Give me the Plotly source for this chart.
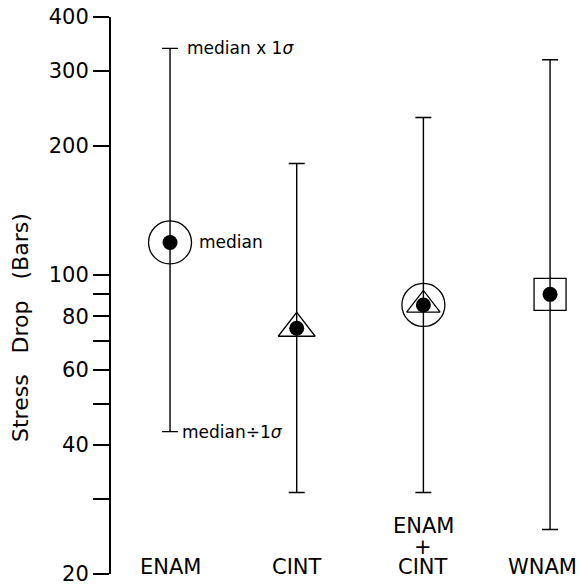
import plotly.graph_objects as go
import math

# ---- data ----
categories = ["ENAM", "CINT", "ENAM+CINT", "WNAM"]
median = [119, 75, 85, 90]
upper = [338, 182, 233, 318]   # median x 1 sigma
lower = [43, 31, 31, 25.4]     # median / 1 sigma
y_tickvals = [20, 30, 40, 50, 60, 70, 80, 90, 100, 200, 300, 400]
y_ticktext = ["20", "", "40", "", "60", "", "80", "", "100", "200", "300", "400"]

x = list(range(len(categories)))
err_plus = [u - m for u, m in zip(upper, median)]
err_minus = [m - l for m, l in zip(median, lower)]

FONT = "DejaVu Sans"
TOP, BOT = 17, 10
PH = 584 - TOP - BOT
fig = go.Figure()

# error bars (median x/÷ 1 sigma)
fig.add_trace(go.Scatter(
    x=x, y=median, mode="markers",
    marker=dict(size=1, color="rgba(0,0,0,0)"),
    error_y=dict(type="data", symmetric=False, array=err_plus, arrayminus=err_minus,
                 color="black", thickness=1.4, width=8),
    showlegend=False, hoverinfo="skip"))

# outer circles (ENAM, ENAM+CINT)
fig.add_trace(go.Scatter(
    x=[x[0], x[2]], y=[median[0], median[2]], mode="markers",
    marker=dict(symbol="circle-open", size=43, color="black", line=dict(width=1.3, color="black")),
    showlegend=False, hoverinfo="skip"))
# triangles (CINT, ENAM+CINT)
fig.add_trace(go.Scatter(
    x=[x[1]], y=[median[1]], mode="markers",
    marker=dict(symbol="triangle-up-open", size=32, color="black", line=dict(width=1.3, color="black")),
    showlegend=False, hoverinfo="skip"))
fig.add_trace(go.Scatter(
    x=[x[2]], y=[median[2]], mode="markers",
    marker=dict(symbol="triangle-up-open", size=29, color="black", line=dict(width=1.3, color="black")),
    showlegend=False, hoverinfo="skip"))
# square (WNAM)
fig.add_trace(go.Scatter(
    x=[x[3]], y=[median[3]], mode="markers",
    marker=dict(symbol="square-open", size=32, color="black", line=dict(width=1.3, color="black")),
    showlegend=False, hoverinfo="skip"))
# filled medians
fig.add_trace(go.Scatter(
    x=x, y=median, mode="markers",
    marker=dict(symbol="circle", size=15, color="black"),
    showlegend=False, hoverinfo="skip"))

def py(px):
    """pixel row -> paper y"""
    return (584 - BOT - px) / PH

ann = []
tf = dict(family=FONT, size=17, color="black")
ann.append(dict(x=x[0], y=math.log10(upper[0]), xref="x", yref="y", text="median x 1<i>σ</i>",
                showarrow=False, xanchor="left", yanchor="middle", xshift=15, font=tf))
ann.append(dict(x=x[0], y=math.log10(median[0]), xref="x", yref="y", text="median",
                showarrow=False, xanchor="left", yanchor="middle", xshift=27, font=tf))
ann.append(dict(x=x[0], y=math.log10(lower[0]), xref="x", yref="y", text="median÷1<i>σ</i>",
                showarrow=False, xanchor="left", yanchor="middle", xshift=10, font=tf))

cf = dict(family=FONT, size=21, color="black")
ann.append(dict(x=x[0], y=py(567), xref="x", yref="paper", text="ENAM", showarrow=False,
                xanchor="center", yanchor="middle", font=cf))
ann.append(dict(x=x[1], y=py(567), xref="x", yref="paper", text="CINT", showarrow=False,
                xanchor="center", yanchor="middle", font=cf))
ann.append(dict(x=x[2], y=py(526), xref="x", yref="paper", text="ENAM", showarrow=False,
                xanchor="center", yanchor="middle", font=cf))
ann.append(dict(x=x[2], y=py(547), xref="x", yref="paper", text="+", showarrow=False,
                xanchor="center", yanchor="middle", font=cf))
ann.append(dict(x=x[2], y=py(567), xref="x", yref="paper", text="CINT", showarrow=False,
                xanchor="center", yanchor="middle", font=cf))
ann.append(dict(x=x[3], y=py(567), xref="x", yref="paper", text="WNAM", showarrow=False,
                xanchor="center", yanchor="middle", xshift=-8, font=cf))

# y-axis title
ann.append(dict(x=(20 - 111) / 472.0, y=py(328), xref="paper", yref="paper",
                text="Stress\u00a0\u00a0\u00a0Drop\u00a0\u00a0\u00a0(Bars)", textangle=-90, showarrow=False,
                xanchor="center", yanchor="middle", font=dict(family=FONT, size=22, color="black")))

fig.update_layout(
    width=583, height=584,
    margin=dict(l=111, r=0, t=TOP, b=BOT),
    paper_bgcolor="white", plot_bgcolor="white",
    annotations=ann,
    xaxis=dict(range=[-0.466, 3.26], showline=False, showgrid=False, zeroline=False,
               showticklabels=False, ticks=""),
    yaxis=dict(type="log", range=[math.log10(19.99), math.log10(400.2)],
               tickvals=y_tickvals, ticktext=y_ticktext,
               ticks="outside", ticklen=16, tickwidth=1.5, tickcolor="black",
               showline=True, linewidth=2, linecolor="black",
               showgrid=False, zeroline=False, automargin=False,
               ticklabeloverflow="allow",
               tickfont=dict(family=FONT, size=21, color="black")),
)

fig.write_html("out.html")
